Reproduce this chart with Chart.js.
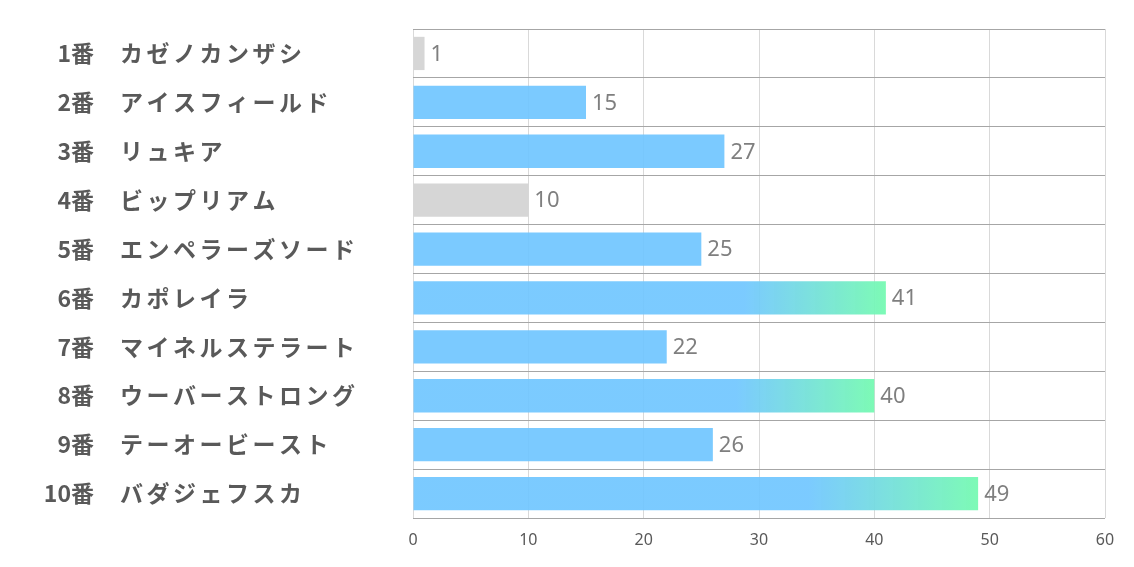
<!DOCTYPE html>
<html>
<head>
<meta charset="utf-8">
<script src="https://cdn.jsdelivr.net/npm/chart.js@4"></script>
<style>
  html, body { margin: 0; padding: 0; background: #fff; }
  #wrap { width: 1134px; height: 567px; position: relative; }
</style>
</head>
<body>
<div id="wrap"><canvas id="chart"></canvas></div>
<script>
// data
const numbers = ['1番', '2番', '3番', '4番', '5番', '6番', '7番', '8番', '9番', '10番'];
const names = ['カゼノカンザシ', 'アイスフィールド', 'リュキア', 'ビップリアム', 'エンペラーズソード',
  'カポレイラ', 'マイネルステラート', 'ウーバーストロング', 'テーオービースト', 'バダジェフスカ'];
const values = [1, 15, 27, 10, 25, 41, 22, 40, 26, 49];
const greyed = [true, false, false, true, false, false, false, false, false, false];
const highlighted = [false, false, false, false, false, true, false, true, false, true];
const xTicks = [0, 10, 20, 30, 40, 50, 60];

const BLUE = 'rgba(112,198,255,0.92)';
const GREEN = 'rgba(118,250,178,0.95)';
const GREY = 'rgba(214,214,214,1)';

function barColor(ctx) {
  const i = ctx.dataIndex;
  if (greyed[i]) return GREY;
  if (!highlighted[i]) return BLUE;
  const chart = ctx.chart;
  const x = chart.scales && chart.scales.x;
  if (!x || !chart.chartArea) return BLUE;
  const x0 = x.getPixelForValue(0);
  const x1 = x.getPixelForValue(values[i]);
  const g = chart.ctx.createLinearGradient(x0, 0, x1, 0);
  g.addColorStop(0, BLUE);
  g.addColorStop(0.7, BLUE);
  g.addColorStop(1, GREEN);
  return g;
}

// horse labels on the left: number right aligned, name left aligned
const sideLabels = {
  id: 'sideLabels',
  afterDraw(chart) {
    const ctx = chart.ctx;
    const y = chart.scales.y;
    ctx.save();
    ctx.fillStyle = '#595959';
    ctx.font = 'bold 23px "Noto Sans CJK JP", "Noto Sans", sans-serif';
    ctx.textBaseline = 'middle';
    numbers.forEach((n, i) => {
      const py = y.getPixelForTick(i);
      ctx.letterSpacing = '0px';
      ctx.textAlign = 'right';
      ctx.fillText(n, 94, py);
      ctx.letterSpacing = '3.5px';
      ctx.textAlign = 'left';
      ctx.fillText(names[i], 120, py);
    });
    ctx.restore();
  }
};

// value labels after each bar end
const valueLabels = {
  id: 'valueLabels',
  afterDatasetsDraw(chart) {
    const ctx = chart.ctx;
    const meta = chart.getDatasetMeta(0);
    ctx.save();
    ctx.fillStyle = '#7f7f7f';
    ctx.font = '22px "Noto Sans", sans-serif';
    ctx.textAlign = 'left';
    ctx.textBaseline = 'middle';
    meta.data.forEach((bar, i) => {
      ctx.fillText(String(values[i]), bar.x + 6, bar.y + 1);
    });
    ctx.restore();
  }
};

new Chart(document.getElementById('chart'), {
  type: 'bar',
  data: {
    labels: names,
    datasets: [{
      data: values,
      backgroundColor: barColor,
      borderWidth: 0,
      barPercentage: 0.68,
      categoryPercentage: 1
    }]
  },
  options: {
    indexAxis: 'y',
    responsive: true,
    maintainAspectRatio: false,
    animation: false,
    layout: { padding: { top: 29, right: 29, left: 0, bottom: 0 } },
    plugins: {
      legend: { display: false },
      tooltip: { enabled: false }
    },
    scales: {
      x: {
        min: 0,
        max: 60,
        afterBuildTicks: s => { s.ticks = xTicks.map(v => ({ value: v })); },
        afterFit: s => { s.height = 49; },
        border: { display: false },
        grid: { color: '#d9d9d9', lineWidth: 1, drawTicks: false },
        ticks: {
          padding: 13,
          color: '#595959',
          font: { family: '"Liberation Sans Narrow", "Noto Sans", sans-serif', size: 16 }
        }
      },
      y: {
        afterFit: s => { s.width = 413; },
        border: { display: false },
        grid: { offset: true, color: '#a6a6a6', lineWidth: 1, drawTicks: false },
        ticks: { display: false }
      }
    }
  },
  plugins: [sideLabels, valueLabels]
});
</script>
</body>
</html>
